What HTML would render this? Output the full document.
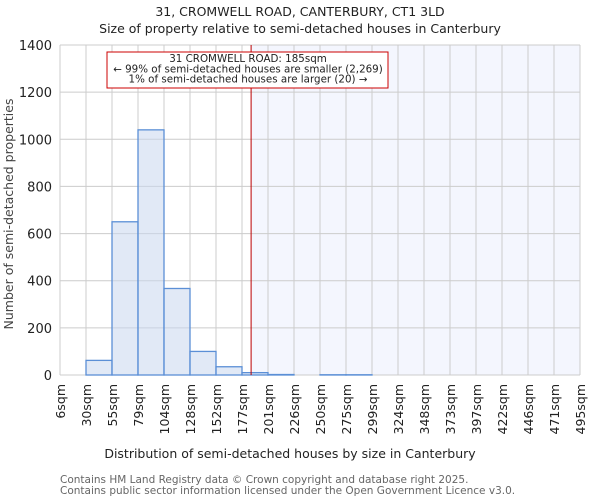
<!DOCTYPE html>
<html><head><meta charset="utf-8"><style>
body{margin:0;background:#fff;font-family:"DejaVu Sans","Liberation Sans",sans-serif;}
</style></head><body>
<svg id="c" width="600" height="500" xmlns="http://www.w3.org/2000/svg" font-family="DejaVu Sans, Liberation Sans, sans-serif">
<text x="300" y="16" text-anchor="middle" font-size="12.5" fill="#222">31, CROMWELL ROAD, CANTERBURY, CT1 3LD</text>
<text x="300" y="33" text-anchor="middle" font-size="12.5" fill="#222">Size of property relative to semi-detached houses in Canterbury</text>
<g id="plot"></g>
<text x="290" y="458" text-anchor="middle" font-size="12.5" fill="#222">Distribution of semi-detached houses by size in Canterbury</text>
<text transform="translate(13,214) rotate(-90)" text-anchor="middle" font-size="12.5" fill="#444">Number of semi-detached properties</text>
<text x="60" y="483" font-size="10.5" fill="#666">Contains HM Land Registry data © Crown copyright and database right 2025.</text>
<text x="60" y="494" font-size="10.5" fill="#666">Contains public sector information licensed under the Open Government Licence v3.0.</text>
</svg>
<script>
const binLabels=["6sqm","30sqm","55sqm","79sqm","104sqm","128sqm","152sqm","177sqm","201sqm","226sqm","250sqm","275sqm","299sqm","324sqm","348sqm","373sqm","397sqm","422sqm","446sqm","471sqm","495sqm"];
const counts=[0,62,650,1040,367,100,35,10,2,0,1,1,0,0,0,0,0,0,0,0];
const yTicks=[0,200,400,600,800,1000,1200,1400];
const propertyBin=7.35;
const NS="http://www.w3.org/2000/svg";
const L=60,R=580,T=45,B=375,nb=counts.length,bw=(R-L)/nb;
const xs=i=>L+i*bw, ys=v=>B-v*(B-T)/1400;
const g=document.getElementById('plot');
function mk(t,a){const e=document.createElementNS(NS,t);for(const k in a)e.setAttribute(k,a[k]);g.appendChild(e);return e;}
const px=xs(propertyBin);
let e=mk('rect',{x:px,y:T,width:R-px,height:B-T,fill:'#f4f6fe'});


for(let i=0;i<=nb;i++){e=mk('line',{x1:xs(i),x2:xs(i),y1:T,y2:B,stroke:'#ccc','stroke-width':1});

}
yTicks.forEach(v=>{e=mk('line',{x1:L,x2:R,y1:ys(v),y2:ys(v),stroke:'#ccc','stroke-width':1});


e=mk('text',{x:L-8,y:ys(v)+5,'text-anchor':'end','font-size':'13',fill:'#222'});e.textContent=v;

});
counts.forEach((v,i)=>{if(v<=0)return;e=mk('rect',{x:xs(i),y:ys(v),width:bw,height:B-ys(v),fill:'rgba(200,215,238,0.55)',stroke:'#5b8fd6','stroke-width':1.3});

});
binLabels.forEach((s,i)=>{e=mk('text',{transform:`translate(${xs(i)+5},384) rotate(-90)`,'text-anchor':'end','font-size':'12.5',fill:'#222'});e.textContent=s;

});
e=mk('line',{x1:px,x2:px,y1:T,y2:B,stroke:'#b00','stroke-width':1});


e=mk('rect',{x:107,y:52,width:281,height:36,fill:'#fff',stroke:'#c00','stroke-width':1});


["31 CROMWELL ROAD: 185sqm","← 99% of semi-detached houses are smaller (2,269)","1% of semi-detached houses are larger (20) →"].forEach((s,i)=>{e=mk('text',{x:248,y:62+i*10.3,'text-anchor':'middle','font-size':'10.3',fill:'#222'});e.textContent=s;

});
</script>
</body></html>
